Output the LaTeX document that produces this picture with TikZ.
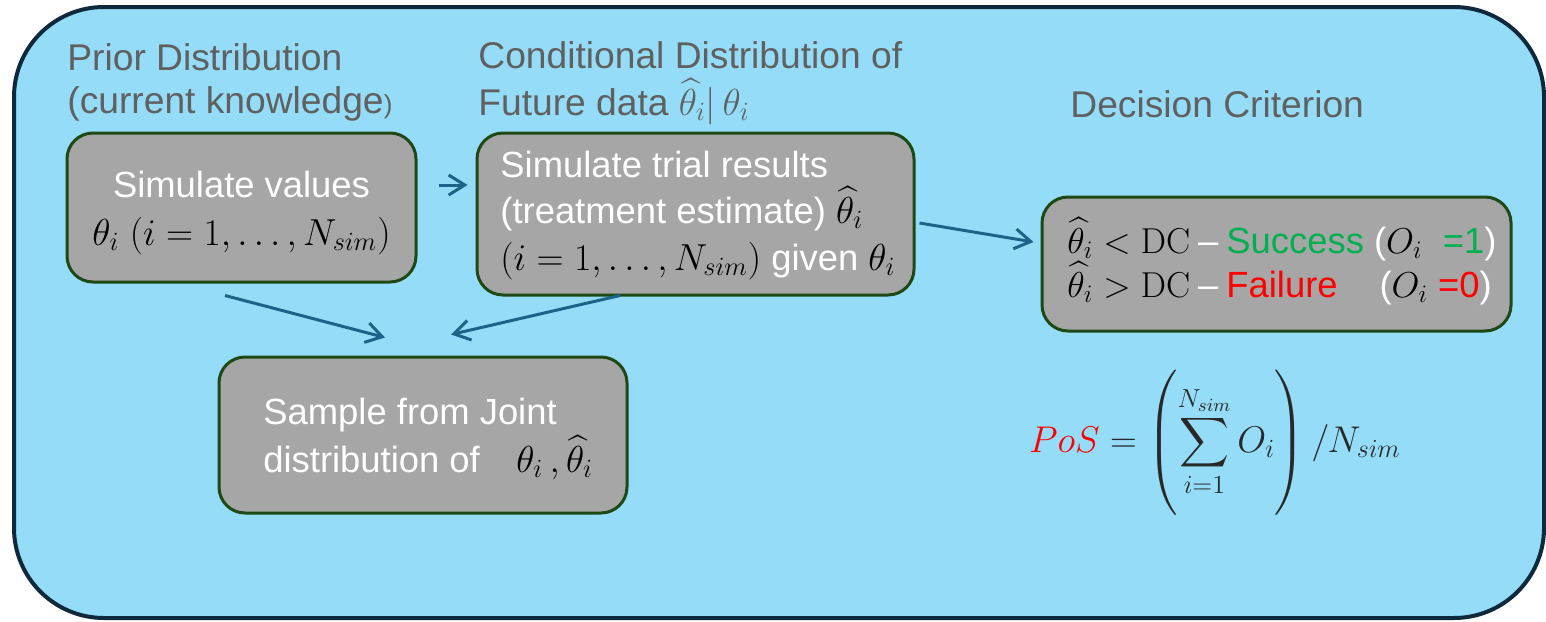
\RequirePackage{fix-cm}
\documentclass[tikz,border=0pt]{standalone}
\usepackage{amsmath}
\usepackage[no-math]{fontspec}
\setmainfont{Liberation Sans}
\usetikzlibrary{arrows.meta}
\definecolor{bgblue}{RGB}{148,220,247}
\definecolor{framecol}{RGB}{14,40,60}
\definecolor{boxfill}{RGB}{166,166,166}
\definecolor{boxline}{RGB}{30,72,20}
\definecolor{headgrey}{RGB}{96,96,96}
\definecolor{arrcol}{RGB}{27,100,136}
\definecolor{okgreen}{RGB}{0,176,80}
\definecolor{badred}{RGB}{255,0,0}
\definecolor{formcol}{RGB}{40,40,40}
\newcommand{\mfont}{\fontsize{18.8}{22}\selectfont}
\newcommand{\bk}[1]{\textcolor{black}{\mfont#1}}
\newcommand{\bks}[1]{\textcolor{black}{\fontsize{18}{22}\selectfont#1}}
\newcommand{\dsh}{\hspace{0.22em}–\hspace{0.22em}}
\tikzset{
  framebox/.style={draw=framecol, line width=2pt, fill=bgblue, rounded corners=45pt, inner sep=0pt},
  stepbox/.style={draw=boxline, line width=1.5pt, fill=boxfill, rounded corners=13pt, inner sep=0pt},
  headtxt/.style={anchor=base west, inner sep=0pt, text=headgrey, font=\fontsize{18.6}{22}\selectfont},
  boxtxt/.style={inner sep=0pt, text=white, font=\fontsize{18.2}{22}\selectfont},
  arr/.style={draw=arrcol, line width=1.5pt, -{Straight Barb[length=8pt,width=10pt,line width=1.5pt]}},
}
\begin{document}
\begin{tikzpicture}[x=0.5pt,y=-0.5pt]
\useasboundingbox (0,0) rectangle (1546,621);
\node[framebox, minimum width=765pt, minimum height=305.5pt] (frame) at (779,312.5) {};
% headings
\node[headtxt] (h1a) at (67,70) {Prior Distribution};
\node[headtxt] (h1b) at (67,113) {(current knowledge{\fontsize{13}{15}\selectfont)}};
\node[headtxt] (h2a) at (478,68) {Conditional Distribution of};
\node[headtxt] (h2b) at (478,115) {Future data {\mfont$\widehat{\theta}_i|\,\theta_i$}};
\node[headtxt] (h3) at (1070,117) {Decision Criterion};
% boxes
\node[stepbox, minimum width=174.5pt, minimum height=74.5pt] (b1) at (241.5,207.5) {};
\node[stepbox, minimum width=218.5pt, minimum height=81pt] (b2) at (695.5,214) {};
\node[stepbox, minimum width=234.5pt, minimum height=67pt] (b3) at (1276.5,264) {};
\node[stepbox, minimum width=204pt, minimum height=78pt] (b4) at (423,435) {};
% box 1 text
\node[boxtxt, anchor=base] (t1a) at (241.5,197) {Simulate values};
\node[boxtxt, anchor=base] (t1b) at (241.5,245) {\bk{$\theta_i\ (i=1,\ldots,N_{sim})$}};
% box 2 text
\node[boxtxt, anchor=base west] (t2a) at (500,177) {Simulate trial results};
\node[boxtxt, anchor=base west] (t2b) at (500,223) {(treatment estimate) \bk{$\widehat{\theta}_i$}};
\node[boxtxt, anchor=base west] (t2c) at (500,270) {\bk{$(i=1,\ldots,N_{sim})$} given \bk{$\theta_i$}};
% box 3 text
\node[boxtxt, anchor=base west] (t3a) at (1067,253) {\bks{$\widehat{\theta}_i<\mathrm{DC}$}\dsh\textcolor{okgreen}{Success} (\bks{$O_i$}\ \ \textcolor{okgreen}{=1})};
\node[boxtxt, anchor=base west] (t3b) at (1067,297) {\bks{$\widehat{\theta}_i>\mathrm{DC}$}\dsh\textcolor{badred}{\rlap{Failure}\phantom{Success}}\hspace{0.15em} (\bks{$O_i$}\ \textcolor{badred}{=0})};
% box 4 text
\node[boxtxt, anchor=base west] (t4a) at (263,424) {Sample from Joint};
\node[boxtxt, anchor=base west] (t4b) at (263,472) {distribution of\quad \bk{$\theta_i\,,\widehat{\theta}_i$}};
% formula
\node[inner sep=0pt, text=formcol, font=\fontsize{18.6}{23}\selectfont] (pos) at (1215,443)
  {$\displaystyle \textcolor{badred}{PoS}=\left(\vrule height 38pt depth 29pt width 0pt\sum_{i=1}^{N_{sim}} O_i\right)/N_{sim}$};
% arrows
\draw[arr] ([shift={(21,-22.5)}]b1.east) -- ([shift={(-8,-29)}]b2.west);
\draw[arr] ([shift={(4,9)}]b2.east) -- ([shift={(-7,-22)}]b3.west);
\draw[arr] ([shift={(-16.5,12)}]b1.south) -- ([shift={(-38,-18)}]b4.north);
\draw[arr] ([shift={(-75.5,-1)}]b2.south) -- ([shift={(28,-21)}]b4.north);
\end{tikzpicture}
\end{document}
